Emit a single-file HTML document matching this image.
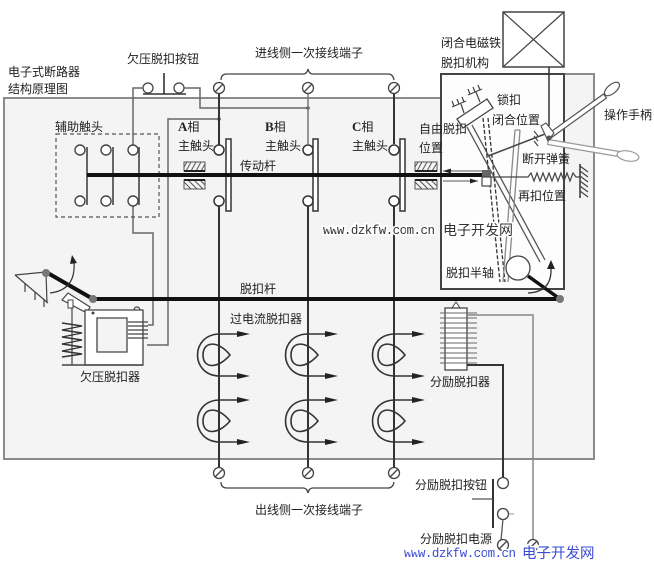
<!DOCTYPE html>
<html><head><meta charset="utf-8">
<style>
html,body{margin:0;padding:0;background:#fff;}
svg{display:block;}
text{font-family:"Liberation Sans","Noto Sans CJK SC",sans-serif;font-size:12px;fill:#222;}
.ln{stroke:#333;stroke-width:2;fill:none;}
.wr{stroke:#666;stroke-width:1.5;fill:none;}
.th{stroke:#444;stroke-width:1.2;fill:none;}
</style></head><body>
<svg width="654" height="569" viewBox="0 0 654 569" xmlns="http://www.w3.org/2000/svg">
<defs>
<g id="term"><circle cx="0" cy="0" r="5.5" fill="#fff" stroke="#444" stroke-width="1.3"/><line x1="-4" y1="4" x2="4" y2="-4" stroke="#444" stroke-width="1.3"/></g>
<g id="coil">
<path d="M0,0 C-30,0 -30,42 0,42" fill="none" stroke="#333" stroke-width="1.6"/>
<path d="M-17,21 C-17,7 -2,6 10,21 C-2,35 -17,35 -17,21 Z" fill="none" stroke="#333" stroke-width="1.6"/>
<path d="M0,0 H22 M0,42 H22" stroke="#333" stroke-width="1.5"/>
<polygon points="17,-3 30,0 17,3" fill="#222"/>
<polygon points="17,39 30,42 17,45" fill="#222"/>
</g>
</defs>

<!-- outer box -->
<path d="M4,98 H441 V74 H594 V459 H4 Z" fill="#f4f4f4" stroke="#8a8a8a" stroke-width="2"/>
<!-- mechanism box -->
<rect x="441" y="74" width="123" height="215" fill="#fdfdfd" stroke="#444" stroke-width="2"/>

<!-- electromagnet -->
<rect x="503" y="12" width="61" height="55" fill="#fff" stroke="#444" stroke-width="1.5"/>
<path d="M503,12 L564,67 M564,12 L503,67" stroke="#444" stroke-width="1.2"/>
<path d="M549,67 V126" stroke="#333" stroke-width="1.5"/>

<!-- top terminals and brace -->
<path d="M221,80 Q221,74 227,74 H303 Q307,74 308,69 Q309,74 313,74 H388 Q393,74 394,80" fill="none" stroke="#444" stroke-width="1.3"/>
<use href="#term" x="219" y="88"/>
<use href="#term" x="308" y="88"/>
<use href="#term" x="394" y="88"/>

<!-- undervoltage button -->
<circle cx="148" cy="88" r="5" fill="#fff" stroke="#444" stroke-width="1.3"/>
<circle cx="179" cy="88" r="5" fill="#fff" stroke="#444" stroke-width="1.3"/>
<path d="M164,73 V94 M143,94 H186" stroke="#333" stroke-width="1.6"/>
<path class="wr" d="M143,88 H133 V145"/>
<path class="wr" d="M184,88 H200 V108 H308"/>
<circle cx="308" cy="108" r="1.8" fill="#555"/>
<path class="wr" d="M219,119 H168 V345 H147"/>
<circle cx="219" cy="119" r="1.8" fill="#555"/>
<path class="wr" d="M133,206 V233 H153 V325 H148"/>

<!-- phase lines -->
<path class="ln" d="M219,94 V145 M219,206 V467"/>
<path d="M308,94 V144" stroke="#777" stroke-width="1.5"/>
<path class="ln" d="M308,206 V467"/>
<path class="ln" d="M394,94 V144 M394,206 V467"/>
<g fill="#fff" stroke="#333" stroke-width="1.5">
<circle cx="219" cy="150" r="5"/><circle cx="219" cy="201" r="5"/>
<circle cx="308" cy="150" r="5"/><circle cx="308" cy="201" r="5"/>
<circle cx="394" cy="150" r="5"/><circle cx="394" cy="201" r="5"/>
<rect x="226" y="139" width="5" height="72"/>
<rect x="313" y="139" width="5" height="72"/>
<rect x="400" y="139" width="5" height="72"/>
</g>

<!-- aux contacts -->
<rect x="56" y="134" width="103" height="83" fill="none" stroke="#555" stroke-width="1.2" stroke-dasharray="4 3"/>
<g fill="#fff" stroke="#444" stroke-width="1.4">
<circle cx="80" cy="150" r="5"/><circle cx="80" cy="201" r="5"/>
<circle cx="106" cy="150" r="5"/><circle cx="106" cy="201" r="5"/>
<circle cx="133" cy="150" r="5"/><circle cx="133" cy="201" r="5"/>
</g>
<path d="M87,147 V205 M113,147 V205 M139,147 V205" stroke="#444" stroke-width="1.6"/>

<!-- hatch blocks -->
<g stroke="#555" stroke-width="1">
<rect x="184" y="162" width="21" height="9" fill="none"/>
<path d="M186,171 L191,162 M191,171 L196,162 M196,171 L201,162 M201,171 L205,164 M184,167 L187,162"/>
<rect x="184" y="180" width="21" height="9" fill="none"/>
<path d="M184,182 L191,189 M188,180 L197,189 M194,180 L203,189 M200,180 L205,185"/>
<rect x="415" y="162" width="22" height="9" fill="none"/>
<path d="M417,171 L422,162 M422,171 L427,162 M427,171 L432,162 M432,171 L437,163 M415,167 L418,162"/>
<rect x="415" y="180" width="22" height="9" fill="none"/>
<path d="M415,182 L422,189 M419,180 L428,189 M425,180 L434,189 M431,180 L437,186"/>
</g>
<path d="M184,171 H205 M184,180 H205 M415,171 H437 M415,180 H437" stroke="#222" stroke-width="2"/>

<!-- transmission rod -->
<path d="M87,175 H484" stroke="#111" stroke-width="4"/>
<path d="M443,171 H482 M443,181 H478" stroke="#555" stroke-width="1"/>
<polygon points="443,171 451,168.5 451,173.5" fill="#222"/>
<polygon points="478,181 470,178.5 470,183.5" fill="#222"/>

<!-- mechanism internals -->
<polygon points="457,119 487,99 493,108 463,128" fill="#fff" stroke="#444" stroke-width="1.3"/>
<path class="th" d="M452,107 L466,101 M454,106 L452,101 M459,104 L457,99 M464,102 L462,97 M461,104 L464,113"/>
<path class="th" d="M468,95 L482,89 M470,94 L468,89 M475,92 L473,87 M480,90 L478,85 M476,92 L480,102"/>
<path d="M467,127 L540,262 M472,125 L545,260" stroke="#555" stroke-width="1.3"/>
<path d="M483,118 L500,282 M488,118 L505,282" stroke="#333" stroke-width="1.3" stroke-dasharray="4 2"/>
<path d="M515,130 L503,282 M520,130 L508,282 M515,130 L520,130" stroke="#888" stroke-width="1.3"/>
<circle cx="518" cy="268" r="12" fill="#fff" stroke="#444" stroke-width="1.3"/>
<path d="M528,276 L560,299" stroke="#111" stroke-width="3.5"/>
<path d="M528,293 Q552,292 551,268" fill="none" stroke="#333" stroke-width="1.3"/>
<polygon points="551,260 547,269 555,269" fill="#222"/>

<rect x="482" y="170" width="9" height="7" fill="#666"/>
<rect x="482" y="177" width="9" height="9" fill="#fff" stroke="#444" stroke-width="1.2"/>
<path d="M488,156 L545,134" stroke="#444" stroke-width="1.5"/>
<path d="M491,177 H528 L531,173 L534,181 L537,173 L540,181 L543,173 L546,181 L549,173 L552,181 L555,173 L558,181 L561,173 L564,181 L567,173 L570,181 L573,173 L576,177 H580" fill="none" stroke="#444" stroke-width="1.2"/>
<path d="M580,164 V198" stroke="#333" stroke-width="1.5"/>
<path class="th" d="M580,166 L588,172 M580,171 L588,177 M580,176 L588,182 M580,181 L588,187 M580,186 L588,192 M580,191 L588,197"/>

<!-- handles -->
<polygon points="546.5,135 603.5,94 606.5,98 549.5,139" fill="#fff" stroke="#555" stroke-width="1.2"/>
<ellipse cx="612" cy="89" rx="9" ry="4.5" transform="rotate(-40 612 89)" fill="#fff" stroke="#555" stroke-width="1.2"/>
<polygon points="548.4,139.5 619.4,151.5 618.6,156.5 547.6,144.5" fill="#fff" stroke="#999" stroke-width="1.2"/>
<ellipse cx="628" cy="156" rx="11" ry="5" transform="rotate(10 628 156)" fill="#fff" stroke="#999" stroke-width="1.2"/>
<polygon points="541,126 546,123 554,133 548,141" fill="#fff" stroke="#555" stroke-width="1.2"/>
<path class="th" d="M534,131 L538,136 M534,136 L538,141 M534,141 L538,146"/>
<circle cx="549" cy="138" r="2.5" fill="#555"/>

<!-- trip rod -->
<path d="M92,299 H560" stroke="#111" stroke-width="4"/>

<!-- undervoltage release -->
<path class="th" d="M15,275 L46,272 M15,275 L48,303 M46,272 L47,303"/>
<path class="th" d="M25,283 V292 M35,292 V300 M44,300 V307"/>
<path d="M46,272 L93,299" stroke="#111" stroke-width="4"/>
<path d="M50,293 Q76,290 74,262" fill="none" stroke="#333" stroke-width="1.2"/>
<polygon points="72,255 70,264 77,263" fill="#222"/>
<polygon points="62,300 68,293 90,307 87,313" fill="#fff" stroke="#444" stroke-width="1.2"/>
<path d="M85,310 H143 V365 H85 Z M97,318 V352 H127 V318 Z" fill="#fff" stroke="#444" stroke-width="1.3" fill-rule="evenodd"/>
<path d="M134,310 A3,3 0 0 1 140,310" fill="none" stroke="#444" stroke-width="1.2"/>
<circle cx="93" cy="313" r="1.5" fill="#444"/>
<path d="M128,322 H148 M128,326 H148 M128,330 H148 M128,334 H148 M128,338 H148" stroke="#444" stroke-width="1.2"/>
<rect x="68" y="300" width="5" height="8" fill="#fff" stroke="#444" stroke-width="1"/>
<path d="M72,308 V365" stroke="#444" stroke-width="1.2"/>
<path d="M62,323 L82,326 L62,330 L82,333 L62,337 L82,340 L62,344 L82,347 L62,351 L82,354 L62,357" fill="none" stroke="#333" stroke-width="1.4"/>
<path d="M62,365 H143" stroke="#444" stroke-width="1.5"/>
<circle cx="46" cy="273" r="4" fill="#777"/>
<circle cx="93" cy="299" r="4" fill="#777"/>
<circle cx="560" cy="299" r="4" fill="#777"/>

<!-- overcurrent coils -->
<use href="#coil" x="220" y="334"/>
<use href="#coil" x="220" y="400"/>
<use href="#coil" x="308" y="334"/>
<use href="#coil" x="308" y="400"/>
<use href="#coil" x="395" y="334"/>
<use href="#coil" x="395" y="400"/>

<!-- shunt release -->
<polygon points="452,308 456,302 460,308" fill="#fff" stroke="#444" stroke-width="1"/>
<rect x="445" y="308" width="22" height="62" fill="#fff" stroke="#444" stroke-width="1.3"/>
<path d="M440,313 H477 M440,318 H477 M440,323 H477 M440,328 H477 M440,333 H477 M440,338 H477 M440,343 H477 M440,348 H477 M440,353 H477 M440,358 H477 M440,363 H477" stroke="#666" stroke-width="1"/>
<path d="M467,365 H503 V478" stroke="#333" stroke-width="2" fill="none"/>
<path d="M467,315 H533 V540" stroke="#888" stroke-width="1.5" fill="none"/>
<circle cx="503" cy="483" r="5.5" fill="#fff" stroke="#444" stroke-width="1.3"/>
<circle cx="503" cy="514" r="5.5" fill="#fff" stroke="#444" stroke-width="1.3"/>
<path d="M493,479 V528" stroke="#333" stroke-width="2"/>
<path d="M472,499 H493" stroke="#555" stroke-width="1.3"/>
<path d="M509,514 H514" stroke="#999" stroke-width="1"/>
<path d="M503,519 L501,540" stroke="#555" stroke-width="1.3"/>
<use href="#term" x="503" y="545"/>
<use href="#term" x="533" y="545"/>

<!-- bottom terminals and brace -->
<use href="#term" x="219" y="473"/>
<use href="#term" x="308" y="473"/>
<use href="#term" x="394" y="473"/>
<path d="M221,482 Q221,488 227,488 H303 Q307,488 308,493 Q309,488 313,488 H388 Q393,488 394,482" fill="none" stroke="#444" stroke-width="1.3"/>

<!-- labels -->
<text x="8" y="76">电子式断路器</text>
<text x="8" y="93">结构原理图</text>
<text x="127" y="63">欠压脱扣按钮</text>
<text x="255" y="57">进线侧一次接线端子</text>
<text x="55" y="131">辅助触头</text>
<text x="178" y="131"><tspan font-family="Liberation Serif" font-weight="bold" font-size="13">A</tspan>相</text>
<text x="178" y="150">主触头</text>
<text x="265" y="131"><tspan font-family="Liberation Serif" font-weight="bold" font-size="13">B</tspan>相</text>
<text x="265" y="150">主触头</text>
<text x="352" y="131"><tspan font-family="Liberation Serif" font-weight="bold" font-size="13">C</tspan>相</text>
<text x="352" y="150">主触头</text>
<text x="240" y="170">传动杆</text>
<text x="419" y="133">自由脱扣</text>
<text x="419" y="152">位置</text>
<text x="441" y="47">闭合电磁铁</text>
<text x="441" y="67">脱扣机构</text>
<text x="497" y="104">锁扣</text>
<text x="492" y="124">闭合位置</text>
<text x="522" y="163">断开弹簧</text>
<text x="518" y="200">再扣位置</text>
<text x="604" y="119">操作手柄</text>
<text x="446" y="277">脱扣半轴</text>
<text x="240" y="293">脱扣杆</text>
<text x="230" y="323">过电流脱扣器</text>
<text x="80" y="381">欠压脱扣器</text>
<text x="430" y="386">分励脱扣器</text>
<text x="255" y="514">出线侧一次接线端子</text>
<text x="415" y="489">分励脱扣按钮</text>
<text x="420" y="543">分励脱扣电源</text>

<!-- watermarks -->
<g stroke="#fff" stroke-width="3" paint-order="stroke">
<text x="323" y="234" font-family="Liberation Mono, monospace" font-size="12.5" textLength="112" fill="#333" style="font-family:'Liberation Mono',monospace;font-size:12.5px;fill:#333">www.dzkfw.com.cn</text>
<text x="443" y="235" style="font-size:14px;fill:#333">电子开发网</text>
<text x="404" y="557" textLength="112" style="font-family:'Liberation Mono',monospace;font-size:12.5px;fill:#3a4bd4">www.dzkfw.com.cn</text>
<text x="522" y="558" style="font-size:14.5px;fill:#3a4bd4">电子开发网</text>
</g>
</svg>
</body></html>
